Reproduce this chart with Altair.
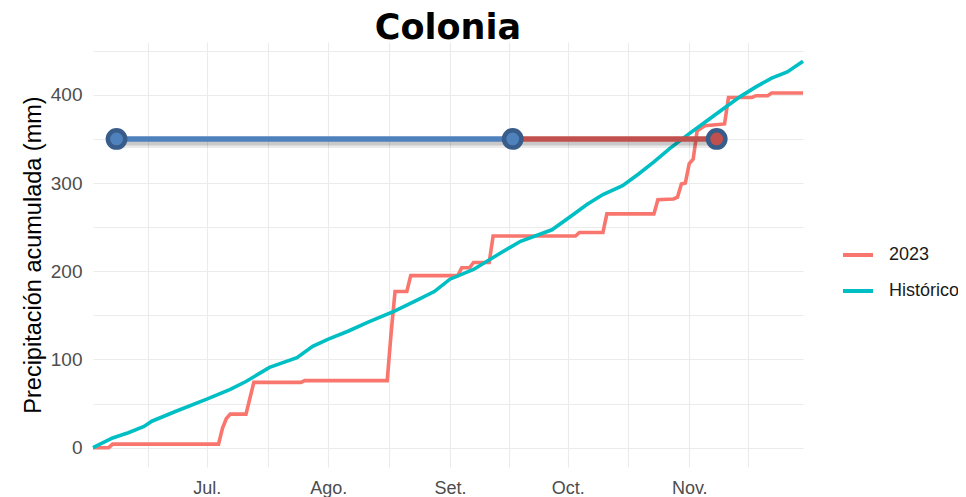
import altair as alt
import pandas as pd

# ---------------- data ----------------
series_names = ["2023", "Histórico"]
series_colors = ["#F8766D", "#00BFC4"]

red_dates = ["2023-06-02", "2023-06-06", "2023-06-07", "2023-07-04", "2023-07-05", "2023-07-06",
             "2023-07-07", "2023-07-11", "2023-07-12", "2023-07-13", "2023-07-25", "2023-07-26",
             "2023-08-16", "2023-08-17", "2023-08-18", "2023-08-21", "2023-08-22", "2023-09-03",
             "2023-09-04", "2023-09-06", "2023-09-07", "2023-09-11", "2023-09-12", "2023-10-03",
             "2023-10-04", "2023-10-10", "2023-10-11", "2023-10-23", "2023-10-24", "2023-10-28",
             "2023-10-29", "2023-10-30", "2023-10-31", "2023-11-01", "2023-11-02", "2023-11-03",
             "2023-11-04", "2023-11-05", "2023-11-10", "2023-11-11", "2023-11-17", "2023-11-18",
             "2023-11-21", "2023-11-22", "2023-11-30"]
red_vals = [0, 0, 4, 4, 22, 33, 38, 38, 56, 74, 74, 76, 76, 130, 177, 177, 195, 195, 204, 204,
            210, 210, 240, 240, 244, 244, 265, 265, 281, 282, 284, 299, 300, 322, 327, 359, 362,
            365, 367, 397, 397, 399, 399, 402, 402]

hist_dates = ["2023-06-02", "2023-06-07", "2023-06-11", "2023-06-15", "2023-06-17", "2023-06-23",
              "2023-07-01", "2023-07-07", "2023-07-11", "2023-07-17", "2023-07-24", "2023-07-28",
              "2023-08-01", "2023-08-06", "2023-08-11", "2023-08-18", "2023-08-24", "2023-08-28",
              "2023-09-01", "2023-09-07", "2023-09-14", "2023-09-19", "2023-09-27", "2023-10-02",
              "2023-10-06", "2023-10-10", "2023-10-15", "2023-10-19", "2023-10-23", "2023-10-27",
              "2023-11-01", "2023-11-05", "2023-11-09", "2023-11-14", "2023-11-18", "2023-11-22",
              "2023-11-26", "2023-11-30"]
hist_vals = [0, 11, 17, 24, 30, 41, 55, 66, 75, 91, 102, 115, 123, 132, 142, 155, 168, 177,
             191, 202, 221, 234, 247, 263, 276, 287, 297, 310, 324, 339, 356, 369, 382, 398,
             409, 419, 426, 438]

# dumbbell (start, middle, end) at a constant level
db_dates = ["2023-06-08", "2023-09-17", "2023-11-08"]
db_level = 350

month_abbr = ["Ene.", "Feb.", "Mar.", "Abr.", "May.", "Jun.", "Jul.", "Ago.", "Set.", "Oct.", "Nov.", "Dic."]
y_ticks = [0, 50, 100, 150, 200, 250, 300, 350, 400, 450]

# ---------------- tables ----------------
df = pd.DataFrame({
    "fecha": red_dates + hist_dates,
    "pp": red_vals + hist_vals,
    "serie": [series_names[0]] * len(red_dates) + [series_names[1]] * len(hist_dates),
})
seg_df = pd.DataFrame({
    "inicio": [db_dates[0], db_dates[1], db_dates[0]],
    "fin": [db_dates[1], db_dates[2], db_dates[2]],
    "pp": [db_level] * 3,
    "tramo": ["a", "b", "sombra"],
})
pt_df = pd.DataFrame({
    "fecha": db_dates,
    "pp": [db_level] * 3,
    "tramo": ["a", "a", "b"],
})


def dt(m, d, h=0):
    return alt.DateTime(year=2023, month=m, date=d, hours=h, utc=True)


x_values = [dt(6, 16), dt(7, 1), dt(7, 16, 12), dt(8, 1), dt(8, 16, 12), dt(9, 1), dt(9, 16),
            dt(10, 1), dt(10, 16, 12), dt(11, 1), dt(11, 16)]
x_scale = alt.Scale(type="utc", domain=[dt(6, 2), dt(11, 30)], nice=False)
y_scale = alt.Scale(domain=[-21.9, 459.9], nice=False, zero=False)

month_list = "[" + ",".join("'%s'" % m for m in month_abbr) + "]"
x_axis = alt.Axis(values=x_values, title=None, labelPadding=12, labelFontSize=18,
                  labelExpr="utcdate(datum.value) == 1 ? %s[utcmonth(datum.value)] : ''" % month_list)
y_axis = alt.Axis(values=y_ticks, title="Precipitación acumulada (mm)", labelPadding=11,
                  labelFontSize=19, titleX=-53, titleBaseline="alphabetic",
                  labelExpr="datum.value % 100 == 0 ? datum.label : ''")

X = alt.X("fecha:T", scale=x_scale, axis=x_axis)
Y = alt.Y("pp:Q", scale=y_scale, axis=y_axis)

lines = alt.Chart(df).mark_line(strokeWidth=3.6).encode(
    x=X, y=Y,
    color=alt.Color("serie:N", scale=alt.Scale(domain=series_names, range=series_colors),
                    legend=alt.Legend(title=None, orient="none", legendX=748, legendY=196,
                                      symbolType="stroke", symbolSize=900, symbolStrokeWidth=4,
                                      labelFontSize=18, labelFont="Liberation Sans",
                                      labelColor="#1A1A1A", labelOffset=14, rowPadding=10,
                                      padding=0, labelLimit=200)),
)

seg_x = alt.X("inicio:T", scale=x_scale, axis=x_axis)
shadow1 = alt.Chart(seg_df).transform_filter("datum.tramo == 'sombra'").mark_rule(
    color="#000000", opacity=0.08, strokeWidth=10, yOffset=4).encode(x=seg_x, x2="fin:T", y=Y)
shadow2 = alt.Chart(seg_df).transform_filter("datum.tramo == 'sombra'").mark_rule(
    color="#000000", opacity=0.14, strokeWidth=5, yOffset=4).encode(x=seg_x, x2="fin:T", y=Y)
seg_blue = alt.Chart(seg_df).transform_filter("datum.tramo == 'a'").mark_rule(
    color="#4F81BD", strokeWidth=5.5).encode(x=seg_x, x2="fin:T", y=Y)
seg_red = alt.Chart(seg_df).transform_filter("datum.tramo == 'b'").mark_rule(
    color="#C0504D", strokeWidth=5.5).encode(x=seg_x, x2="fin:T", y=Y)
pts_blue = alt.Chart(pt_df).transform_filter("datum.tramo == 'a'").mark_circle(
    size=300, fill="#4F81BD", stroke="#385D8A", strokeWidth=4.5, opacity=1).encode(x=X, y=Y)
pts_red = alt.Chart(pt_df).transform_filter("datum.tramo == 'b'").mark_circle(
    size=300, fill="#C0504D", stroke="#385D8A", strokeWidth=4.5, opacity=1).encode(x=X, y=Y)

chart = alt.layer(lines, shadow1, shadow2, seg_blue, seg_red, pts_blue, pts_red).properties(
    width=710, height=425,
    autosize=alt.AutoSizeParams(type="none"),
    padding={"left": 85, "top": 34, "right": 155, "bottom": 30},
    title=alt.TitleParams("Colonia", font="DejaVu Sans", fontSize=35, fontWeight="bold", color="black",
                          anchor="middle", offset=-4),
).configure_view(stroke=None).configure_axis(
    domain=False, ticks=False, gridColor="#EBEBEB", gridWidth=1.1,
    labelFont="Liberation Sans", labelColor="#4D4D4D",
    titleFont="Liberation Sans", titleFontSize=23.5, titleColor="black", titleFontWeight="normal",
)

chart.save("out.html", embed_options={"renderer": "svg", "actions": False})
